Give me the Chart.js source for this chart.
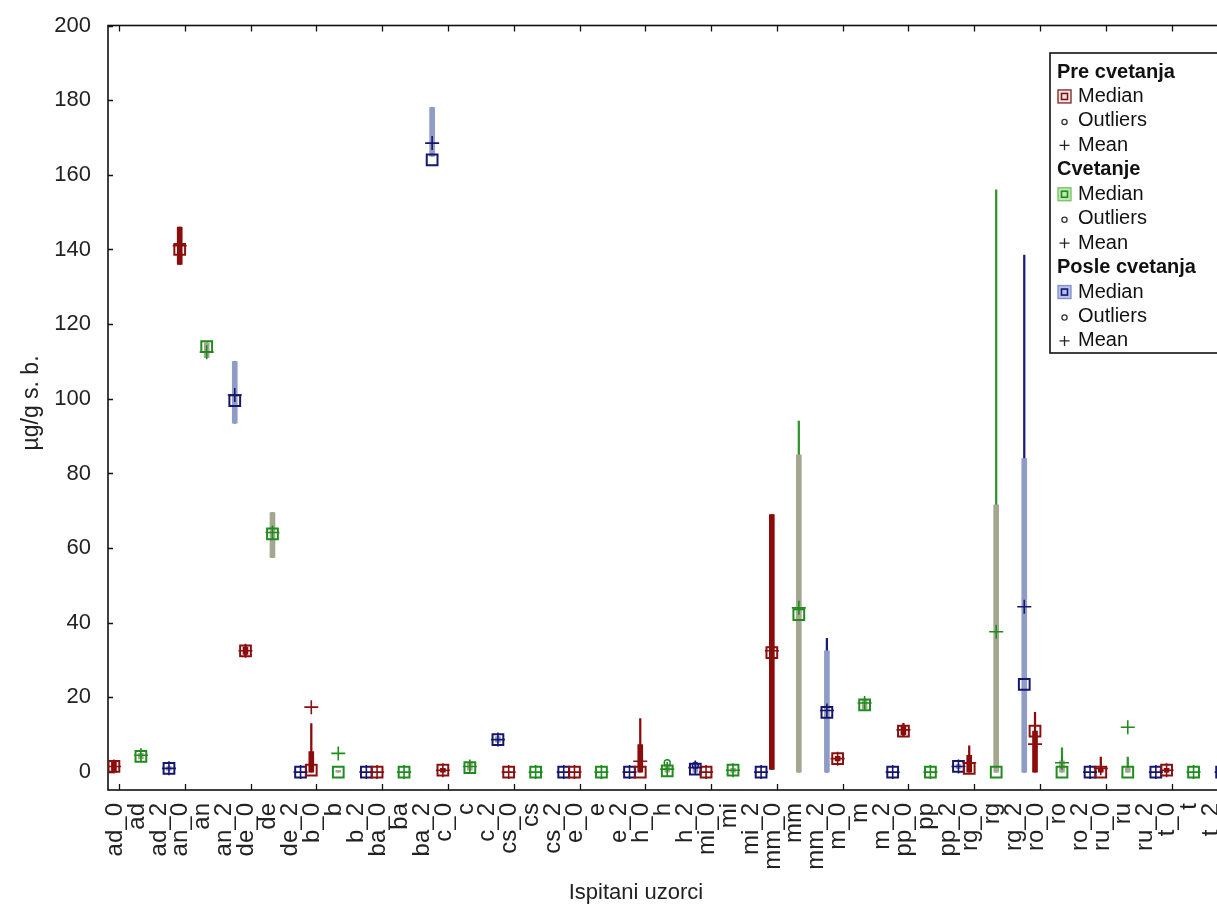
<!DOCTYPE html>
<html>
<head>
<meta charset="utf-8">
<script src="https://cdn.jsdelivr.net/npm/chart.js@4.4.1/dist/chart.umd.min.js"></script>
<style>
  html, body { margin: 0; padding: 0; background: #fff; overflow: hidden; }
  #wrap { position: relative; width: 1240px; height: 921px; }
</style>
</head>
<body>
<div id="wrap"><canvas id="c" width="1240" height="921"></canvas></div>
<script>
// Sample groups (one per plant) and the 51 axis labels (_0 = before, plain = during, _2 = after flowering)
const groups = ['ad', 'an', 'de', 'b', 'ba', 'c', 'cs', 'e', 'h', 'mi', 'mm', 'm', 'pp', 'rg', 'ro', 'ru', 't'];
const categories = [
  'ad_0', 'ad', 'ad_2', 'an_0', 'an', 'an_2', 'de_0', 'de', 'de_2', 'b_0', 'b', 'b_2',
  'ba_0', 'ba', 'ba_2', 'c_0', 'c', 'c_2', 'cs_0', 'cs', 'cs_2', 'e_0', 'e', 'e_2',
  'h_0', 'h', 'h_2', 'mi_0', 'mi', 'mi_2', 'mm_0', 'mm', 'mm_2', 'm_0', 'm', 'm_2',
  'pp_0', 'pp', 'pp_2', 'rg_0', 'rg', 'rg_2', 'ro_0', 'ro', 'ro_2', 'ru_0', 'ru', 'ru_2',
  't_0', 't', 't_2'
];
const yTicks = [0, 20, 40, 60, 80, 100, 120, 140, 160, 180, 200];

// Pre cvetanja (one value per group)
const preMedian    = [1.5, 140, 32.5, 0.5, 0, 0.5, 0, 0, 0, 0, 32, 3.6, 11, 1, 11, 0, 0.5];
const preMean      = [1.5, 141, 32.5, 17.4, 0, 0.5, 0, 0, 2.9, 0, 32.5, 3.6, 11.3, 2.5, 7.5, 1, 0.5];
const preBoxLow    = [0, 136, 31.5, 0, 0, 0, 0, 0, 0, 0, 0.7, 3, 10, 0, 0, 0, 0];
const preBoxHigh   = [3, 146, 33.5, 5.5, 0, 1, 0, 0, 7.4, 0, 69, 4.2, 12.5, 4.5, 11, 1, 1];
const preWhiskLow  = [0, 136, 31, 0, 0, 0, 0, 0, 0, 0, 0.7, 3, 9.5, 0, 0, 0, 0];
const preWhiskHigh = [3, 146, 34, 13, 0, 1, 0, 0, 14.3, 0, 69, 4.2, 13, 7, 16, 4, 1];
const preOutliers  = [];

// Cvetanje
const cvMedian    = [4.2, 114, 63.8, 0, 0, 1.2, 0, 0, 0.3, 0.5, 42.2, 18, 0, 0, 0, 0, 0];
const cvMean      = [4.5, 112.5, 64.2, 5, 0, 1.5, 0, 0, 0.8, 0.5, 44, 18.5, 0, 37.6, 2.5, 12, 0];
const cvBoxLow    = [3.5, 111, 57.5, 0, 0, 0.5, 0, 0, 0, 0, 0, 17, 0, 0, 0, 0, 0];
const cvBoxHigh   = [5, 115, 69.5, 0.5, 0, 2.5, 0, 0, 1.5, 1, 85, 19.5, 0, 71.6, 3, 1, 0];
const cvWhiskLow  = [3.5, 111, 57.5, 0, 0, 0.5, 0, 0, 0, 0, 0, 17, 0, 0, 0, 0, 0];
const cvWhiskHigh = [5, 115, 69.5, 0.5, 0, 2.5, 0, 0, 1.5, 1, 94, 19.5, 0, 156, 6.5, 4, 0];
const cvOutliers  = [[8, 2.5]];

// Posle cvetanja
const poMedian    = [1, 99.5, 0, 0, 164, 8.7, 0, 0, 0.8, 0, 16, 0, 1.5, 23.5, 0, 0, 0];
const poMean      = [1, 101, 0, 0, 168.5, 8.7, 0, 0, 1.2, 0, 16.5, 0, 1.5, 44.3, 0, 0, 0];
const poBoxLow    = [0.5, 93.5, 0, 0, 165, 8, 0, 0, 0, 0, 0, 0, 1, 0, 0, 0, 0];
const poBoxHigh   = [1.5, 110, 0, 0, 178, 9.5, 0, 0, 2, 0, 32.5, 0, 2, 84, 0, 0, 0];
const poWhiskLow  = [0.5, 93.5, 0, 0, 165, 8, 0, 0, 0, 0, 0, 0, 1, 0, 0, 0, 0];
const poWhiskHigh = [1.5, 110, 0, 0, 178, 9.5, 0, 0, 2, 0, 35.8, 0, 2, 138.5, 0, 0, 0];
const poOutliers  = [[8, 1.8]];

// Layout of the three boxes inside each group, in label units
const GROUP_TICK = 0.18;
const SERIES_OFFSET = [-0.23, 1.0, 2.28];
const FONT = "'Liberation Sans', Arial, sans-serif";

const styles = [
  { name: 'Pre cvetanja', mark: '#8a1010', box: '#8b0a0a', whisker: '#8b0a0a',
    legFill: '#f6e9e9', legEdge: '#7a2020' },
  { name: 'Cvetanje', mark: '#1e8c1e', box: '#a4a68f', whisker: '#2f922f',
    legFill: '#bfe8b0', legEdge: '#78c068' },
  { name: 'Posle cvetanja', mark: '#16166e', box: '#8f9dc6', whisker: '#1c1c78',
    legFill: '#b6c2ec', legEdge: '#8090cc' }
];

function xOf(g, s) { return 3 * g + GROUP_TICK + SERIES_OFFSET[s]; }

function seriesDatasets(s, med, mean, bLo, bHi, wLo, wHi, outl) {
  const st = styles[s];
  const range = (lo, hi) => groups.map((_, g) => ({ x: xOf(g, s), y: [lo[g], hi[g]] }))
    .filter(d => d.y[1] - d.y[0] > 0.05);
  return [
    { type: 'bar', label: st.name + ' whisker', data: range(wLo, wHi),
      backgroundColor: st.whisker, borderWidth: 0, barThickness: 1.6, grouped: false, order: 4 },
    { type: 'bar', label: st.name + ' box', data: range(bLo, bHi),
      backgroundColor: st.box, borderWidth: 0, barThickness: 5, grouped: false, order: 3 },
    { type: 'scatter', label: st.name + ' median',
      data: groups.map((_, g) => ({ x: xOf(g, s), y: med[g] })),
      pointStyle: 'rect', pointRadius: 7.6, pointBorderWidth: 2,
      borderColor: st.mark, backgroundColor: 'rgba(255,255,255,0)', order: 2 },
    { type: 'scatter', label: st.name + ' mean',
      data: groups.map((_, g) => ({ x: xOf(g, s), y: mean[g] })),
      pointStyle: 'cross', pointRadius: 7, pointBorderWidth: 1.6,
      borderColor: st.mark, backgroundColor: st.mark, order: 1 },
    { type: 'scatter', label: st.name + ' outliers',
      data: outl.map(([g, v]) => ({ x: xOf(g, s), y: v })),
      pointStyle: 'circle', pointRadius: 3, pointBorderWidth: 1.4,
      borderColor: st.mark, backgroundColor: 'rgba(255,255,255,0)', order: 0 }
  ];
}

// Frame with inward tick marks on left, bottom and top
const framePlugin = {
  id: 'frame',
  beforeDatasetsDraw(chart) {
    const { ctx, chartArea: a, scales: { x, y } } = chart;
    ctx.save();
    ctx.strokeStyle = '#111';
    ctx.lineWidth = 1.6;
    ctx.strokeRect(a.left, a.top, a.right - a.left, a.bottom - a.top);
    ctx.lineWidth = 1.3;
    ctx.beginPath();
    yTicks.forEach(v => {
      const py = Math.round(y.getPixelForValue(v)) + 0.5;
      ctx.moveTo(a.left, py); ctx.lineTo(a.left + 5, py);
    });
    groups.forEach((_, g) => {
      const px = Math.round(x.getPixelForValue(3 * g + GROUP_TICK)) + 0.5;
      ctx.moveTo(px, a.bottom); ctx.lineTo(px, a.bottom - 6);
      ctx.moveTo(px, a.top); ctx.lineTo(px, a.top + 6);
    });
    ctx.stroke();
    ctx.restore();
  }
};

// Axis titles and the grouped legend box
const decorPlugin = {
  id: 'decor',
  afterDraw(chart) {
    const { ctx } = chart;
    ctx.save();
    ctx.fillStyle = '#222';
    ctx.font = `22px ${FONT}`;
    ctx.textAlign = 'center';
    ctx.textBaseline = 'middle';
    ctx.fillText('Ispitani uzorci', 636, 893);
    ctx.save();
    ctx.translate(32, 403);
    ctx.rotate(-Math.PI / 2);
    ctx.font = `23px ${FONT}`;
    ctx.fillText('µg/g s. b.', 0, 0);
    ctx.restore();

    // legend
    const lx = 1050, ly = 53, lw = 178, lh = 300;
    ctx.fillStyle = '#fff';
    ctx.fillRect(lx, ly, lw, lh);
    ctx.strokeStyle = '#111';
    ctx.lineWidth = 1.6;
    ctx.strokeRect(lx, ly, lw, lh);
    ctx.textAlign = 'left';
    ctx.textBaseline = 'middle';
    const row0 = 72, step = 24.45;
    styles.forEach((st, s) => {
      const base = row0 + s * 4 * step;
      ctx.fillStyle = '#111';
      ctx.font = `bold 20px ${FONT}`;
      ctx.fillText(st.name, 1057, base);
      ctx.font = `20px ${FONT}`;
      const items = ['Median', 'Outliers', 'Mean'];
      items.forEach((t, k) => {
        const cy = base + (k + 1) * step;
        ctx.fillStyle = '#111';
        ctx.fillText(t, 1078, cy);
        ctx.lineWidth = 1.3;
        if (k === 0) {
          ctx.fillStyle = st.legFill;
          ctx.fillRect(1058, cy - 6.5, 13, 13);
          ctx.strokeStyle = st.legEdge;
          ctx.strokeRect(1058, cy - 6.5, 13, 13);
          ctx.strokeStyle = st.mark;
          ctx.lineWidth = 1.6;
          ctx.strokeRect(1061.5, cy - 3, 6, 6);
        } else if (k === 1) {
          ctx.strokeStyle = '#333';
          ctx.beginPath();
          ctx.arc(1064.5, cy + 1, 2.6, 0, Math.PI * 2);
          ctx.stroke();
        } else {
          ctx.strokeStyle = '#222';
          ctx.beginPath();
          ctx.moveTo(1059.5, cy); ctx.lineTo(1069.5, cy);
          ctx.moveTo(1064.5, cy - 5); ctx.lineTo(1064.5, cy + 5);
          ctx.stroke();
        }
      });
    });
    ctx.restore();
  }
};

const datasets = [
  ...seriesDatasets(0, preMedian, preMean, preBoxLow, preBoxHigh, preWhiskLow, preWhiskHigh, preOutliers),
  ...seriesDatasets(1, cvMedian, cvMean, cvBoxLow, cvBoxHigh, cvWhiskLow, cvWhiskHigh, cvOutliers),
  ...seriesDatasets(2, poMedian, poMean, poBoxLow, poBoxHigh, poWhiskLow, poWhiskHigh, poOutliers)
];

new Chart(document.getElementById('c'), {
  type: 'bar',
  data: { datasets },
  plugins: [framePlugin, decorPlugin],
  options: {
    responsive: false,
    animation: false,
    devicePixelRatio: 1,
    layout: { padding: { top: 25.5, right: 12, bottom: 0, left: 0 } },
    plugins: { legend: { display: false }, tooltip: { enabled: false } },
    scales: {
      x: {
        type: 'linear', min: -0.32, max: 50.75, offset: false,
        grid: { display: false, drawTicks: false }, border: { display: false },
        afterBuildTicks: s => { s.ticks = categories.map((_, i) => ({ value: i })); },
        afterFit: s => { s.height = 131; s.paddingLeft = 0; s.paddingRight = 0; },
        ticks: {
          autoSkip: false, maxRotation: 90, minRotation: 90, padding: 13,
          color: '#222', font: { family: FONT, size: 24 },
          callback: (v, i) => categories[i]
        }
      },
      y: {
        type: 'linear', min: -4.8, max: 200,
        grid: { display: false, drawTicks: false }, border: { display: false },
        afterBuildTicks: s => { s.ticks = yTicks.map(v => ({ value: v })); },
        afterFit: s => { s.width = 108; s.paddingTop = 0; s.paddingBottom = 0; },
        ticks: { padding: 17, color: '#222', font: { family: FONT, size: 22 } }
      }
    }
  }
});
</script>
</body>
</html>
